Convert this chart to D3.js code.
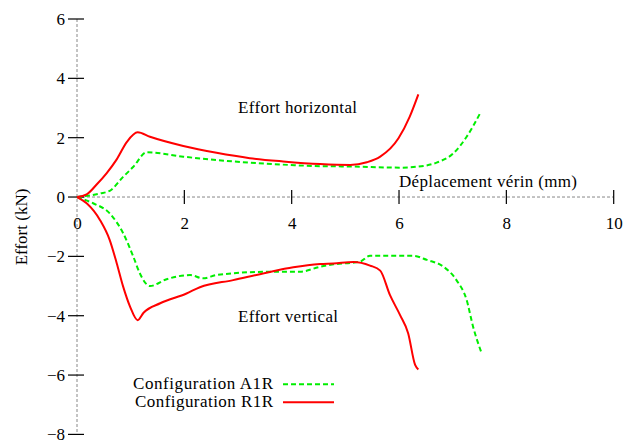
<!DOCTYPE html>
<html>
<head>
<meta charset="utf-8">
<script src="https://cdn.jsdelivr.net/npm/d3@7"></script>
<style>
  html, body { margin: 0; padding: 0; background: #fff; }
  svg { display: block; }
  text { font-family: "Liberation Serif", "Times New Roman", serif; fill: #000; }
</style>
</head>
<body>
<svg id="chart" width="627" height="441"></svg>
<script>
// Tick values
const xTicks = [0, 2, 4, 6, 8, 10];
const yTicks = [-8, -6, -4, -2, 0, 2, 4, 6];

// Configuration A1R — horizontal force
const a1rHorizX = [0, 0.43, 0.61, 0.86, 1.05, 1.3, 1.98, 2.91, 3.97, 4.53, 5.09, 6.02, 6.33, 6.7, 7.01, 7.26, 7.51];
const a1rHorizY = [0, 0.12, 0.21, 0.68, 1.02, 1.51, 1.36, 1.2, 1.08, 1.04, 1.03, 0.99, 1.02, 1.16, 1.47, 2.03, 2.82];

// Configuration A1R — vertical force
const a1rVertX = [0, 0.3, 0.61, 0.86, 1.05, 1.17, 1.36, 1.67, 2.11, 2.35, 2.6, 3.53, 4.15, 4.53, 4.78, 5.27, 5.46, 6.27, 6.52, 6.83, 7.07, 7.26, 7.38, 7.54];
const a1rVertY = [0, -0.21, -0.55, -1.22, -2.01, -2.57, -3.0, -2.77, -2.63, -2.74, -2.63, -2.52, -2.52, -2.35, -2.27, -2.18, -1.98, -1.98, -2.12, -2.35, -2.8, -3.47, -4.37, -5.27];

// Configuration R1R — horizontal force
const r1rHorizX = [0, 0.18, 0.37, 0.55, 0.74, 0.93, 1.13, 1.36, 1.98, 2.6, 3.22, 3.84, 4.53, 5.09, 5.4, 5.65, 5.99, 6.2, 6.36];
const r1rHorizY = [0, 0.09, 0.43, 0.8, 1.27, 1.86, 2.18, 2.03, 1.72, 1.49, 1.31, 1.2, 1.11, 1.08, 1.17, 1.36, 1.98, 2.71, 3.46];

// Configuration R1R — vertical force
const r1rVertX = [0, 0.18, 0.43, 0.61, 0.74, 0.86, 0.99, 1.13, 1.24, 1.55, 2.04, 2.29, 2.91, 3.53, 4.03, 4.53, 4.78, 5.15, 5.46, 5.65, 5.83, 6.02, 6.17, 6.3, 6.36];
const r1rVertY = [0, -0.21, -0.78, -1.45, -2.23, -3.02, -3.7, -4.15, -3.9, -3.58, -3.25, -3.04, -2.8, -2.55, -2.37, -2.26, -2.24, -2.19, -2.31, -2.48, -3.3, -3.98, -4.59, -5.66, -5.81];

const seriesNames = ["Configuration A1R", "Configuration R1R"];
const seriesColors = ["#00ee00", "#ff0000"];

const FONT = "'Liberation Serif', 'Times New Roman', serif";
const svg = d3.select("#chart");
const x = d3.scaleLinear().domain([0, 10]).range([77, 613.7]);
const y = d3.scaleLinear().domain([-8, 6]).range([434.4, 19]);

const zip = (xs, ys) => xs.map((v, i) => [v, ys[i]]);

// Zero axes as light dashed lines
svg.append("line")
  .attr("x1", x(0)).attr("x2", x(0))
  .attr("y1", y(6)).attr("y2", y(-8))
  .attr("stroke", "#888").attr("stroke-width", 1).attr("stroke-dasharray", "3,2");
svg.append("line")
  .attr("x1", x(0)).attr("x2", x(10))
  .attr("y1", y(0)).attr("y2", y(0))
  .attr("stroke", "#888").attr("stroke-width", 1).attr("stroke-dasharray", "3,2");

// Y axis labels
const yAxis = d3.axisLeft(y).tickValues(yTicks).tickSize(0).tickPadding(12)
  .tickFormat(d3.format("d"));
const gy = svg.append("g").attr("transform", `translate(${x(0)},0)`).call(yAxis)
  .attr("font-family", FONT).attr("font-size", 17);
gy.select(".domain").remove();
gy.selectAll("text").style("font-family", FONT).style("font-size", "17px");

// Y tick marks crossing the axis
svg.append("g").selectAll("line").data(yTicks).join("line")
  .attr("x1", x(0) - 9).attr("x2", x(0) + 7)
  .attr("y1", d => y(d)).attr("y2", d => y(d))
  .attr("stroke", "#000").attr("stroke-width", 1.2);

// X axis labels
const xAxis = d3.axisBottom(x).tickValues(xTicks).tickSize(0).tickPadding(20)
  .tickFormat(d3.format("d"));
const gx = svg.append("g").attr("transform", `translate(0,${y(0)})`).call(xAxis)
  .attr("font-family", FONT).attr("font-size", 17);
gx.select(".domain").remove();
gx.selectAll("text").style("font-family", FONT).style("font-size", "17px");

// X tick marks crossing the axis
svg.append("g").selectAll("line").data(xTicks.filter(d => d !== 0)).join("line")
  .attr("x1", d => x(d)).attr("x2", d => x(d))
  .attr("y1", y(0) - 7).attr("y2", y(0) + 7)
  .attr("stroke", "#000").attr("stroke-width", 1.2);

// Axis titles and annotations
function label(tx, ty, str, len, anchor) {
  return svg.append("text").attr("x", tx).attr("y", ty)
    .attr("text-anchor", anchor || "start")
    .attr("textLength", len).attr("lengthAdjust", "spacing")
    .style("font-family", FONT).style("font-size", "17px")
    .text(str);
}
svg.append("text")
  .attr("transform", `translate(27,227) rotate(-90)`)
  .attr("text-anchor", "middle")
  .style("font-family", FONT).style("font-size", "17px")
  .text("Effort (kN)");
label(399, 187, "Déplacement vérin (mm)", 178);
label(238, 113, "Effort horizontal", 119);
label(238, 322, "Effort vertical", 100);

// Curves
const line = d3.line().x(d => x(d[0])).y(d => y(d[1])).curve(d3.curveMonotoneX);
const curves = [
  { pts: zip(a1rHorizX, a1rHorizY), s: 0 },
  { pts: zip(a1rVertX, a1rVertY), s: 0 },
  { pts: zip(r1rHorizX, r1rHorizY), s: 1 },
  { pts: zip(r1rVertX, r1rVertY), s: 1 }
];
svg.append("g").selectAll("path").data(curves).join("path")
  .attr("d", d => line(d.pts))
  .attr("fill", "none")
  .attr("stroke", d => seriesColors[d.s])
  .attr("stroke-width", 2)
  .attr("stroke-linejoin", "round")
  .attr("stroke-dasharray", d => d.s === 0 ? "5,3" : null);

// Legend
const legend = svg.append("g");
seriesNames.forEach((name, i) => {
  const ly = 384.3 + i * 18;
  label(273, ly + 4.5, name, i === 0 ? 140 : 138, "end");
  legend.append("line")
    .attr("x1", 283).attr("x2", 334).attr("y1", ly).attr("y2", ly)
    .attr("stroke", seriesColors[i]).attr("stroke-width", 2)
    .attr("stroke-dasharray", i === 0 ? "5,3" : null);
});
</script>
</body>
</html>
